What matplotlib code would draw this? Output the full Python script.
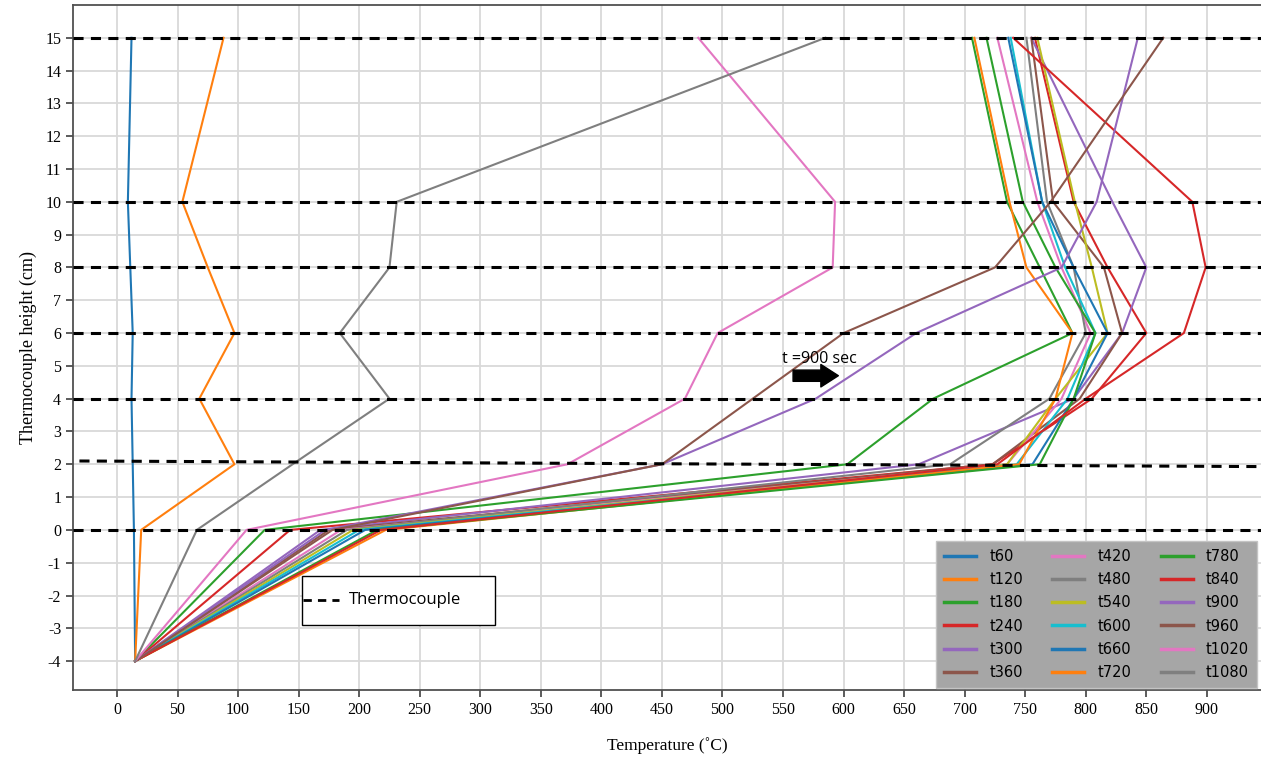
import matplotlib
matplotlib.use("Agg")
import matplotlib.pyplot as plt
from matplotlib.patches import Rectangle

plt.rcParams['axes.unicode_minus'] = False

# thermocouple positions (cm) and readings (deg C) at each time step
heights = [-4, 0, 2, 4, 6, 8, 10, 15]

t60 = [15, 14, 13, 12, 13, 11, 9, 12]
t120 = [15, 20, 97, 68, 97, 75, 54, 88]
t180 = [15, 122, 603, 674, 789, 762, 735, 706]
t240 = [15, 143, 723, 805, 850, 818, 790, 758]
t300 = [15, 168, 662, 790, 830, 850, 822, 755]
t360 = [15, 175, 723, 795, 830, 815, 773, 755]
t420 = [15, 185, 735, 780, 804, 780, 760, 727]
t480 = [15, 190, 688, 770, 800, 790, 768, 751]
t540 = [15, 195, 735, 775, 818, 805, 791, 760]
t600 = [15, 200, 743, 785, 808, 783, 764, 738]
t660 = [15, 205, 756, 790, 818, 790, 764, 736]
t720 = [15, 222, 745, 775, 789, 751, 737, 708]
t780 = [15, 215, 762, 790, 808, 775, 748, 718]
t840 = [15, 218, 727, 800, 881, 899, 888, 740]
t900 = [15, 172, 450, 577, 660, 780, 809, 843]
t960 = [15, 178, 450, 525, 600, 725, 771, 864]
t1020 = [15, 107, 372, 469, 496, 591, 593, 480]
t1080 = [15, 66, 145, 225, 184, 225, 231, 585]

series = [t60, t120, t180, t240, t300, t360, t420, t480, t540,
          t600, t660, t720, t780, t840, t900, t960, t1020, t1080]
labels = ['t60', 't120', 't180', 't240', 't300', 't360', 't420', 't480', 't540',
          't600', 't660', 't720', 't780', 't840', 't900', 't960', 't1020', 't1080']

tc_levels = [0, 4, 6, 8, 10, 15]

serif = ['Liberation Serif', 'DejaVu Serif']

fig = plt.figure(figsize=(12.61, 7.67), dpi=100)
ax = fig.add_axes([0.0579, 0.1004, 0.9421, 0.8931])

for temps, lab in zip(series, labels):
    ax.plot(temps, heights, lw=1.5, label=lab, zorder=2)

dash = (0, (3.3, 2.4))
for lv in tc_levels:
    ax.axhline(lv, color='black', lw=2.2, ls=dash, zorder=3)
# the 2 cm line sits slightly skewed
ax.plot([-31, 945], [2.1, 1.93], color='black', lw=2.2, ls=dash, zorder=3)

ax.set_xlim(-36.3, 944.7)
ax.set_ylim(-4.88, 16.0)
ax.set_xticks(range(0, 901, 50))
ax.set_yticks(range(-4, 16))
ax.grid(True, color='#d9d9d9', lw=1.3, zorder=0)
ax.set_axisbelow(True)
ax.tick_params(direction='out', length=5, width=1.2, colors='#404040',
               labelcolor='black', labelsize=11.5)
for t in ax.get_xticklabels() + ax.get_yticklabels():
    t.set_family(serif)
for side in ['left', 'bottom', 'top']:
    ax.spines[side].set_color('#505050')
    ax.spines[side].set_linewidth(1.3)
ax.spines['right'].set_visible(False)

ax.set_xlabel('Temperature (˚C)', family=serif, fontsize=12.5, labelpad=14)
ax.set_ylabel('Thermocouple height (cm)', family=serif, fontsize=13, labelpad=6)

leg = ax.legend(loc='lower right', bbox_to_anchor=(0.9966, 0.003), ncol=3,
                fontsize=10.5, frameon=True, fancybox=False, framealpha=1,
                facecolor='#a6a6a6', edgecolor='#c4c4c4', borderaxespad=0,
                borderpad=0.55, labelspacing=0.56, handlelength=2.2,
                handletextpad=0.9, columnspacing=2.0)
for ln in leg.get_lines():
    ln.set_linewidth(2.5)

# thermocouple key box
ax.add_patch(Rectangle((152.8, -2.90), 159.3, 1.50, facecolor='white',
                       edgecolor='black', lw=1.0, zorder=5))
ax.plot([154, 183], [-2.13, -2.13], color='black', lw=2.0,
        ls=(0, (3.0, 2.2)), zorder=6)
ax.text(191.5, -2.13, 'Thermocouple', fontsize=12, family='Open Sans',
        va='center', ha='left', zorder=6)

# time marker
ax.text(549, 5.2, 't =900 sec', fontsize=11.5, family='Open Sans',
        va='center', ha='left', zorder=6)
ax.annotate('', xy=(598, 4.7), xytext=(556, 4.7),
            arrowprops=dict(arrowstyle='simple,head_width=0.9,head_length=0.7,tail_width=0.45',
                            color='black', mutation_scale=18), zorder=6)

fig.savefig('out.png', dpi=100)
